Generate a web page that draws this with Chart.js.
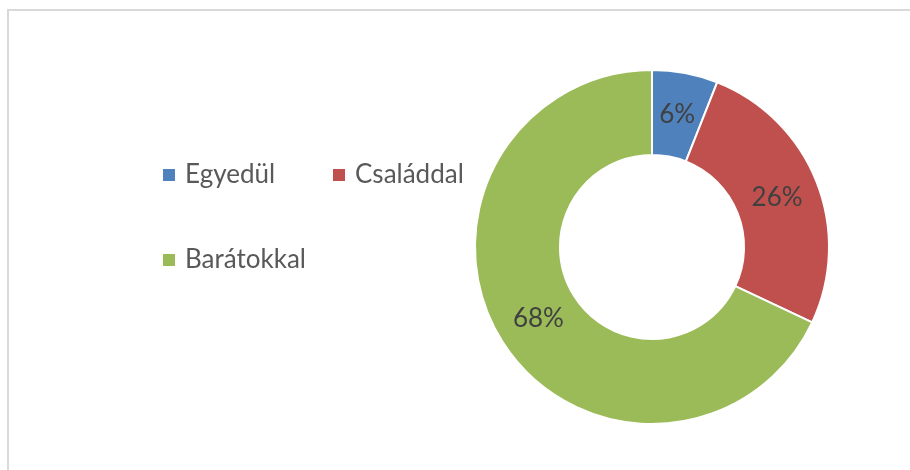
<!DOCTYPE html>
<html>
<head>
<meta charset="utf-8">
<script src="https://cdn.jsdelivr.net/npm/chart.js@4"></script>
<style>
  body { margin: 0; background: #fff; width: 910px; height: 470px; overflow: hidden; position: relative; }
  #frame { position: absolute; left: 7px; top: 9px; width: 920px; height: 480px; border: 2px solid #d9d9d9; box-sizing: border-box; }
  #chart { position: absolute; left: 0; top: 0; }
</style>
</head>
<body>
<div id="frame"></div>
<canvas id="chart" width="910" height="470"></canvas>
<script>
const labels = ['Egyedül', 'Családdal', 'Barátokkal'];
const values = [6, 26, 68];
const colors = ['#4f81bd', '#c0504d', '#9bbb59'];

const fontFamily = 'Lato, "Open Sans", sans-serif';

// legend drawn by hand: two items on the first row, one on the second
const legendPlugin = {
  id: 'sideLegend',
  afterDraw(chart) {
    const ctx = chart.ctx;
    const colX = [163, 333];
    const rowY = [175, 260];
    ctx.save();
    ctx.font = '26px ' + fontFamily;
    ctx.textBaseline = 'middle';
    labels.forEach((lab, i) => {
      const x = colX[i % 2];
      const y = rowY[Math.floor(i / 2)];
      ctx.fillStyle = colors[i];
      ctx.fillRect(x, y - 6, 12, 12);
      ctx.fillStyle = '#595959';
      ctx.fillText(lab, x + 22, y);
    });
    ctx.restore();
  }
};

// percent labels in the middle of each ring segment
const percentPlugin = {
  id: 'percentLabels',
  afterDatasetsDraw(chart) {
    const ctx = chart.ctx;
    const meta = chart.getDatasetMeta(0);
    const total = values.reduce((a, b) => a + b, 0);
    ctx.save();
    ctx.font = '26px ' + fontFamily;
    ctx.fillStyle = '#404040';
    ctx.textAlign = 'center';
    ctx.textBaseline = 'middle';
    meta.data.forEach((arc, i) => {
      const p = arc.getCenterPoint();
      ctx.fillText(Math.round(values[i] / total * 100) + '%', p.x, p.y);
    });
    ctx.restore();
  }
};

new Chart(document.getElementById('chart'), {
  type: 'doughnut',
  data: {
    labels: labels,
    datasets: [{
      data: values,
      backgroundColor: colors,
      borderColor: '#ffffff',
      borderWidth: 2
    }]
  },
  options: {
    responsive: false,
    animation: false,
    cutout: '52%',
    layout: { padding: { left: 474, right: 80, top: 69, bottom: 45 } },
    plugins: {
      legend: { display: false },
      tooltip: { enabled: false }
    }
  },
  plugins: [legendPlugin, percentPlugin]
});
</script>
</body>
</html>
